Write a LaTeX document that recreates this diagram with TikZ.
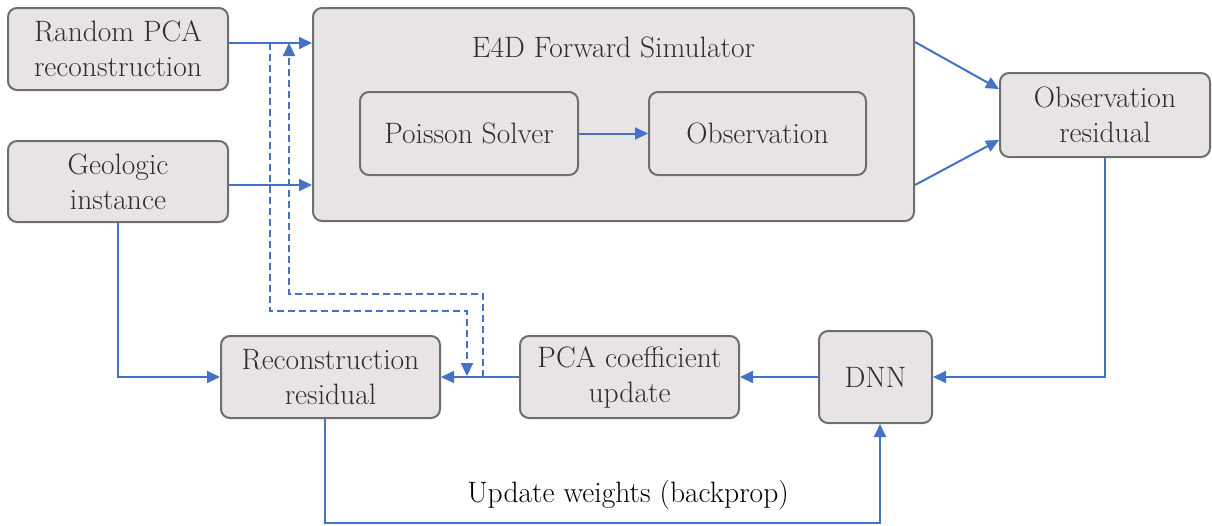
\documentclass[tikz,border=0pt]{standalone}
\usepackage{fontspec}
\usetikzlibrary{arrows.meta}
\definecolor{boxfill}{HTML}{E8E4E6}
\definecolor{boxline}{HTML}{6E6E6E}
\definecolor{flow}{HTML}{4472C4}
\definecolor{txt}{HTML}{2E2E2E}
\tikzset{
  lbl/.style={text=txt, font=\fontsize{29.5}{35}\selectfont},
  blk/.style={lbl, draw=boxline, fill=boxfill, line width=2pt, rounded corners=9pt,
    align=center, inner sep=0pt},
  arr/.style={draw=flow, line width=2pt, -{Triangle[length=13pt,width=12pt]}},
  darr/.style={arr, dash pattern=on 7pt off 4pt}
}
\begin{document}
\begin{tikzpicture}[x=1pt,y=-1pt]
\useasboundingbox (0,0) rectangle (1212,525);

% input boxes
\node[blk, minimum width=220pt, minimum height=82pt] (pca) at (118,49) {Random PCA\\reconstruction};
\node[blk, minimum width=220pt, minimum height=81pt] (geo) at (118,181.5) {Geologic\\instance};

% forward simulator
\node[blk, minimum width=601pt, minimum height=213pt] (e4d) at (613.5,114.5) {};
\node[lbl] (e4dt) at (613.5,47) {E4D Forward Simulator};
\node[blk, minimum width=218pt, minimum height=83pt] (pois) at (469,133.5) {Poisson Solver};
\node[blk, minimum width=217pt, minimum height=83pt] (obs) at (757.5,133.5) {Observation};

\node[blk, minimum width=210pt, minimum height=84pt] (ores) at (1105,115) {Observation\\residual};

% lower row
\node[blk, minimum width=113pt, minimum height=92pt] (dnn) at (875.5,377) {DNN};
\node[blk, minimum width=219pt, minimum height=82pt] (pcu) at (629.5,377) {PCA coefficient\\update};
\node[blk, minimum width=219pt, minimum height=82pt] (rres) at (330.5,377) {Reconstruction\\residual};

% label of the backprop loop
\node[lbl, text=black] (bp) at (628,495) {Update weights (backprop)};

% forward connections
\draw[arr] (pca.east |- 0,43) -- (e4d.west |- 0,43);
\draw[arr] (geo.east |- 0,185) -- (e4d.west |- 0,185);
\draw[arr] (pois) -- (obs);
\draw[arr] (e4d.east |- 0,42) -- (ores.west |- 0,89);
\draw[arr] (e4d.east |- 0,185) -- (ores.west |- 0,140);
\draw[arr] (ores.south) |- (dnn.east);
\draw[arr] (dnn.west) -- (pcu.east);
\draw[arr] (pcu.west) -- (rres.east);
\draw[arr] (geo.south) |- (rres.west);
\draw[arr] (rres.south -| 325,0) -- (325,523) -| (dnn.south -| 880,0);

% dashed feedback paths
\coordinate (d1s) at (270,43);
\coordinate (d1e) at (467,376);
\coordinate (d2s) at (483,377);
\coordinate (d2e) at (289,43);
\draw[darr] (d1s) -- (270,311) -- (467,311) -- (d1e);
\draw[darr] (d2s) -- (483,294) -- (289,294) -- (d2e);
\end{tikzpicture}
\end{document}
